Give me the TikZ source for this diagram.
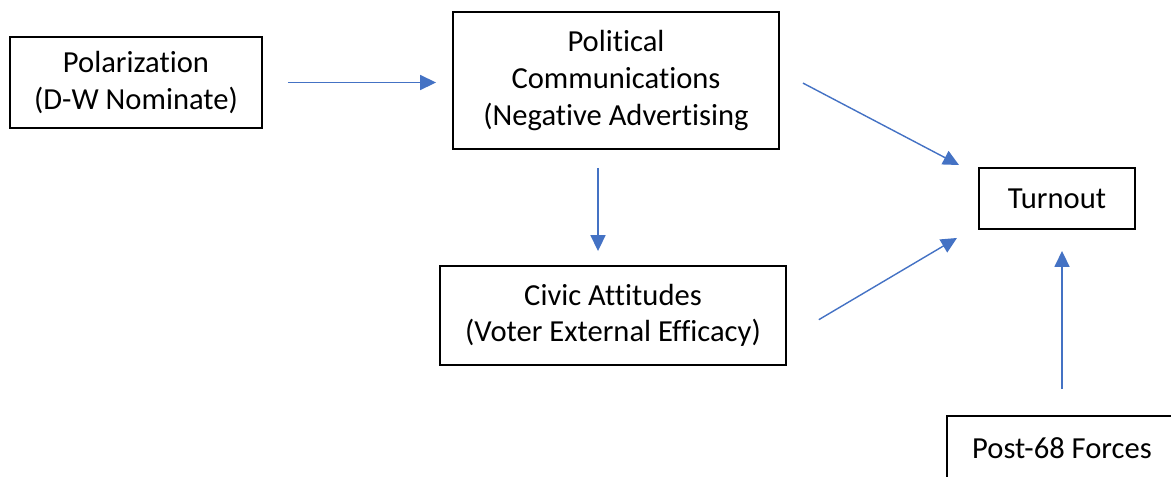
\documentclass[tikz,border=0pt]{standalone}
\usepackage{fontspec}
\setmainfont{Carlito}[Ligatures=NoCommon]
\usepackage{tikz}
\usetikzlibrary{arrows.meta,calc,positioning}
\definecolor{LinkBlue}{HTML}{4472C4}

\begin{document}
\begin{tikzpicture}[
    box/.style={draw=black,line width=1.1pt,align=center,inner sep=0pt,
      font=\fontsize{17.4}{20.8}\selectfont},
    link/.style={draw=LinkBlue,line width=0.8pt,
      -{Triangle[length=9pt,width=8.5pt]}}
  ]
  \useasboundingbox (0,0) rectangle (23.42,-9.52);
  \clip (0,0) rectangle (23.42,-9.52);
  \node[box,minimum width=5.04cm,minimum height=1.82cm] (polar) at (2.72,-1.65)
    {Polarization\\(D-W Nominate)};
  \node[box,minimum width=6.52cm,minimum height=2.74cm] (comms) at (12.32,-1.61)
    {Political\\Communications\\(Negative Advertising};
  \node[box,minimum width=6.92cm,minimum height=1.98cm] (civic) at (12.26,-6.31)
    {Civic Attitudes\\(Voter External Efficacy)};
  \node[box,minimum width=3.12cm,minimum height=1.22cm] (turnout) at (21.14,-3.97)
    {Turnout};
  \node[box,minimum width=4.6cm,minimum height=1.3cm] (forces) at (21.24,-8.97)
    {Post-68 Forces};
  % connectors
  \draw[link,shorten <=0.5cm,shorten >=0.32cm] (polar.east) -- (polar.east -| comms.west);
  \draw[link,shorten <=0.36cm,shorten >=0.28cm]
    ([xshift=-0.36cm]comms.south) -- ([xshift=-0.36cm]comms.south |- civic.north);
  \draw[link,shorten <=0.52cm,shorten >=0.43cm]
    ([yshift=0.19cm]comms.east) -- ([yshift=0.47cm]turnout.west);
  \draw[link,shorten <=0.74cm,shorten >=0.49cm]
    ([yshift=-0.46cm]civic.east) -- ([yshift=-0.54cm]turnout.west);
  \draw[link,shorten <=0.52cm,shorten >=0.42cm]
    ([xshift=0.1cm]turnout.south |- forces.north) -- ([xshift=0.1cm]turnout.south);
\end{tikzpicture}
\end{document}
